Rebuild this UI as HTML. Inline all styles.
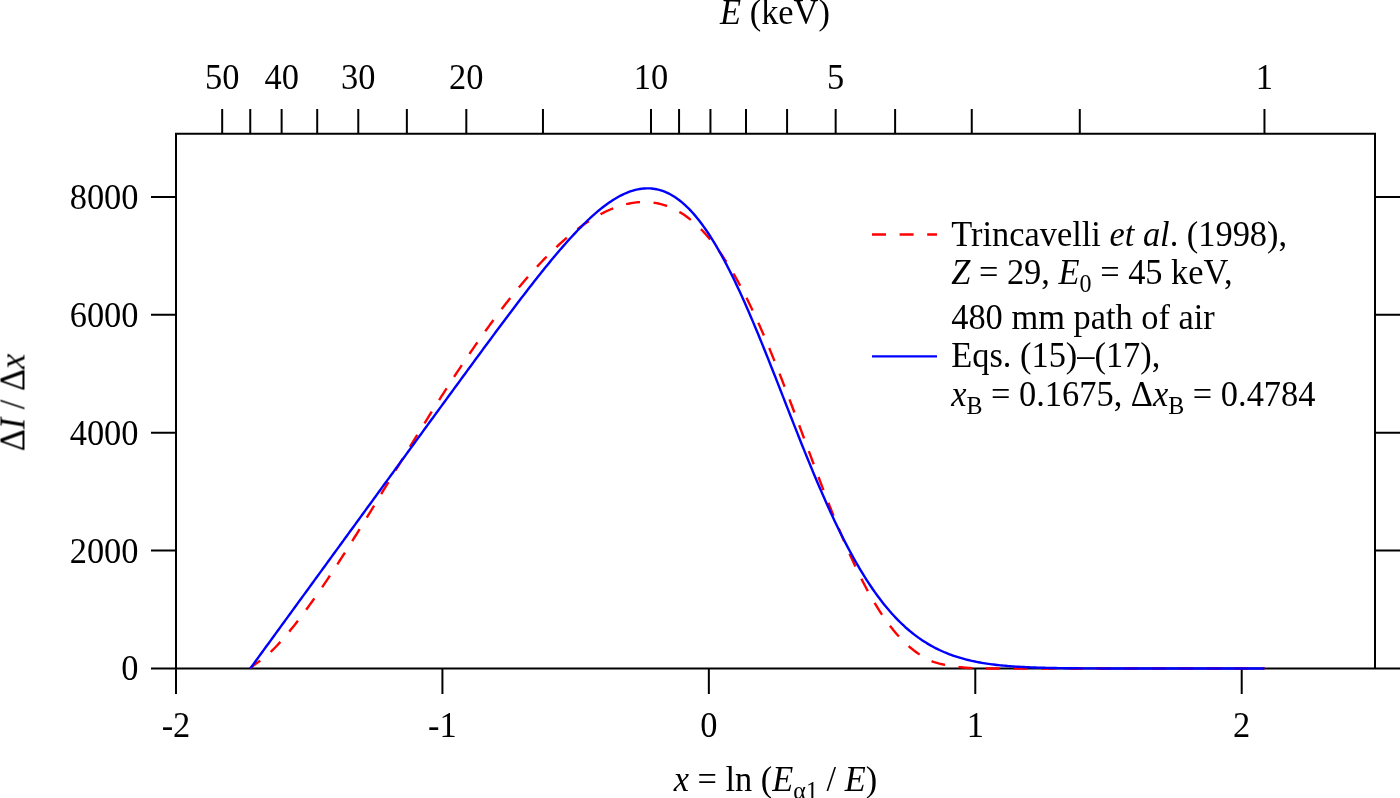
<!DOCTYPE html>
<html><head><meta charset="utf-8"><title>Chart</title>
<style>html,body{margin:0;padding:0;background:#fff;width:1400px;height:798px;overflow:hidden;font-family:"Liberation Serif",serif}svg{display:block}</style>
</head><body>
<svg width="1400" height="798" viewBox="0 0 1400 798">
<rect width="1400" height="798" fill="#fff"/>
<g stroke="#000" stroke-width="2.0" fill="none" stroke-linecap="butt">
<path d="M176.0,668.5 V133.7 H1375.0 V668.5"/>
<path d="M151,668.5 H1400"/>
<path d="M151,550.60 H176.0 M1375.0,550.60 H1400"/>
<path d="M151,432.70 H176.0 M1375.0,432.70 H1400"/>
<path d="M151,314.80 H176.0 M1375.0,314.80 H1400"/>
<path d="M151,196.90 H176.0 M1375.0,196.90 H1400"/>
<path d="M175.99,668.5 V694"/>
<path d="M442.42,668.5 V694"/>
<path d="M708.85,668.5 V694"/>
<path d="M975.28,668.5 V694"/>
<path d="M1241.71,668.5 V694"/>
<path d="M222.18,133.7 V109"/>
<path d="M250.25,133.7 V109"/>
<path d="M281.63,133.7 V109"/>
<path d="M317.21,133.7 V109"/>
<path d="M358.28,133.7 V109"/>
<path d="M406.86,133.7 V109"/>
<path d="M466.31,133.7 V109"/>
<path d="M542.96,133.7 V109"/>
<path d="M650.98,133.7 V109"/>
<path d="M679.06,133.7 V109"/>
<path d="M710.44,133.7 V109"/>
<path d="M746.01,133.7 V109"/>
<path d="M787.08,133.7 V109"/>
<path d="M835.66,133.7 V109"/>
<path d="M895.11,133.7 V109"/>
<path d="M971.76,133.7 V109"/>
<path d="M1079.79,133.7 V109"/>
<path d="M1264.46,133.7 V109"/>
</g>
<g font-family="Liberation Serif, serif" font-size="34.4" fill="#000" style="filter:grayscale(1)">
<text transform="translate(222.18,89.00) scale(1,1.06)" text-anchor="middle">50</text>
<text transform="translate(281.63,89.00) scale(1,1.06)" text-anchor="middle">40</text>
<text transform="translate(358.28,89.00) scale(1,1.06)" text-anchor="middle">30</text>
<text transform="translate(466.31,89.00) scale(1,1.06)" text-anchor="middle">20</text>
<text transform="translate(650.98,89.00) scale(1,1.06)" text-anchor="middle">10</text>
<text transform="translate(835.66,89.00) scale(1,1.06)" text-anchor="middle">5</text>
<text transform="translate(1264.46,89.00) scale(1,1.06)" text-anchor="middle">1</text>
<text transform="translate(775.00,24.00) scale(1,1.06)" text-anchor="middle"><tspan font-style="italic">E</tspan> (keV)</text>
<text transform="translate(138.50,680.40) scale(1,1.06)" text-anchor="end">0</text>
<text transform="translate(138.50,562.50) scale(1,1.06)" text-anchor="end">2000</text>
<text transform="translate(138.50,444.60) scale(1,1.06)" text-anchor="end">4000</text>
<text transform="translate(138.50,326.70) scale(1,1.06)" text-anchor="end">6000</text>
<text transform="translate(138.50,208.80) scale(1,1.06)" text-anchor="end">8000</text>
<text transform="translate(175.99,737.30) scale(1,1.06)" text-anchor="middle">-2</text>
<text transform="translate(442.42,737.30) scale(1,1.06)" text-anchor="middle">-1</text>
<text transform="translate(708.85,737.30) scale(1,1.06)" text-anchor="middle">0</text>
<text transform="translate(975.28,737.30) scale(1,1.06)" text-anchor="middle">1</text>
<text transform="translate(1241.71,737.30) scale(1,1.06)" text-anchor="middle">2</text>
<text transform="translate(775.40,790.60) scale(1,1.06)" text-anchor="middle"><tspan font-style="italic">x</tspan> = ln (<tspan font-style="italic">E</tspan><tspan font-size="24" dy="7.5">α1</tspan><tspan dy="-7.5"> / </tspan><tspan font-style="italic">E</tspan>)</text>
<text transform="translate(24.40,402.50) rotate(-90) scale(1,1.06)" text-anchor="middle">Δ<tspan font-style="italic">I</tspan> / Δ<tspan font-style="italic">x</tspan></text>
<text transform="translate(951.20,245.60) scale(1,1.06)">Trincavelli <tspan font-style="italic">et al</tspan>. (1998),</text>
<text transform="translate(951.20,283.90) scale(1,1.06)"><tspan font-style="italic">Z</tspan> = 29, <tspan font-style="italic">E</tspan><tspan font-size="24" dy="7.5">0</tspan><tspan dy="-7.5"> = 45 keV,</tspan></text>
<text transform="translate(951.20,329.00) scale(1,1.06)">480 mm path of air</text>
<text transform="translate(951.20,367.20) scale(1,1.06)">Eqs. (15)–(17),</text>
<text transform="translate(951.20,406.20) scale(1,1.06)"><tspan font-style="italic">x</tspan><tspan font-size="24" dy="7.5">B</tspan><tspan dy="-7.5"> = 0.1675, Δ</tspan><tspan font-style="italic">x</tspan><tspan font-size="24" dy="7.5">B</tspan><tspan dy="-7.5"> = 0.4784</tspan></text>
</g>
<path d="M872,234.5 H937" stroke="#ff0000" stroke-width="2.4" stroke-dasharray="14 13.6" fill="none"/>
<path d="M872,356.4 H937" stroke="#0000ff" stroke-width="2.4" fill="none"/>
<path d="M250.25,668.50 L251.95,666.91 L253.64,665.44 L255.33,664.08 L257.03,662.90 L258.72,661.84 L260.41,660.75 L262.11,659.50 L263.80,658.14 L265.49,656.72 L267.18,655.24 L268.88,653.70 L270.57,652.10 L272.26,650.45 L273.96,648.76 L275.65,647.01 L277.34,645.23 L279.04,643.40 L280.73,641.53 L282.42,639.63 L284.12,637.69 L285.81,635.72 L287.50,633.71 L289.20,631.68 L290.89,629.61 L292.58,627.51 L294.28,625.39 L295.97,623.23 L297.66,621.06 L299.35,618.86 L301.05,616.63 L302.74,614.38 L304.43,612.11 L306.13,609.81 L307.82,607.50 L309.51,605.16 L311.21,602.81 L312.90,600.44 L314.59,598.04 L316.29,595.63 L317.98,593.20 L319.67,590.76 L321.37,588.30 L323.06,585.82 L324.75,583.33 L326.45,580.82 L328.14,578.30 L329.83,575.76 L331.53,573.21 L333.22,570.64 L334.91,568.07 L336.60,565.48 L338.30,562.87 L339.99,560.26 L341.68,557.63 L343.38,554.99 L345.07,552.34 L346.76,549.68 L348.46,547.01 L350.15,544.33 L351.84,541.65 L353.54,538.95 L355.23,536.25 L356.92,533.53 L358.62,530.81 L360.31,528.09 L362.00,525.36 L363.70,522.62 L365.39,519.87 L367.08,517.12 L368.77,514.37 L370.47,511.61 L372.16,508.85 L373.85,506.08 L375.55,503.32 L377.24,500.54 L378.93,497.77 L380.63,494.99 L382.32,492.21 L384.01,489.43 L385.71,486.65 L387.40,483.87 L389.09,481.09 L390.79,478.30 L392.48,475.52 L394.17,472.74 L395.87,469.96 L397.56,467.17 L399.25,464.40 L400.95,461.62 L402.64,458.84 L404.33,456.07 L406.02,453.30 L407.72,450.53 L409.41,447.76 L411.10,445.00 L412.80,442.24 L414.49,439.49 L416.18,436.74 L417.88,434.00 L419.57,431.26 L421.26,428.52 L422.96,425.79 L424.65,423.07 L426.34,420.35 L428.04,417.64 L429.73,414.93 L431.42,412.23 L433.12,409.54 L434.81,406.85 L436.50,404.17 L438.19,401.50 L439.89,398.84 L441.58,396.19 L443.27,393.54 L444.97,390.91 L446.66,388.28 L448.35,385.66 L450.05,383.05 L451.74,380.45 L453.43,377.86 L455.13,375.28 L456.82,372.71 L458.51,370.15 L460.21,367.60 L461.90,365.06 L463.59,362.53 L465.29,360.02 L466.98,357.51 L468.67,355.02 L470.37,352.54 L472.06,350.07 L473.75,347.62 L475.44,345.17 L477.14,342.74 L478.83,340.33 L480.52,337.92 L482.22,335.53 L483.91,333.16 L485.60,330.79 L487.30,328.45 L488.99,326.11 L490.68,323.79 L492.38,321.49 L494.07,319.20 L495.76,316.92 L497.46,314.67 L499.15,312.42 L500.84,310.19 L502.54,307.98 L504.23,305.79 L505.92,303.61 L507.61,301.44 L509.31,299.30 L511.00,297.17 L512.69,295.06 L514.39,292.96 L516.08,290.89 L517.77,288.83 L519.47,286.79 L521.16,284.76 L522.85,282.76 L524.55,280.77 L526.24,278.80 L527.93,276.86 L529.63,274.93 L531.32,273.02 L533.01,271.12 L534.71,269.25 L536.40,267.40 L538.09,265.57 L539.79,263.76 L541.48,261.97 L543.17,260.20 L544.86,258.46 L546.56,256.73 L548.25,255.02 L549.94,253.34 L551.64,251.68 L553.33,250.04 L555.02,248.42 L556.72,246.82 L558.41,245.25 L560.10,243.70 L561.80,242.18 L563.49,240.67 L565.18,239.20 L566.88,237.74 L568.57,236.31 L570.26,234.90 L571.96,233.52 L573.65,232.17 L575.34,230.83 L577.03,229.53 L578.73,228.25 L580.42,226.99 L582.11,225.77 L583.81,224.57 L585.50,223.39 L587.19,222.25 L588.89,221.13 L590.58,220.04 L592.27,218.98 L593.97,217.94 L595.66,216.93 L597.35,215.96 L599.05,215.01 L600.74,214.10 L602.43,213.21 L604.13,212.36 L605.82,211.53 L607.51,210.74 L609.21,209.98 L610.90,209.25 L612.59,208.56 L614.28,207.89 L615.98,207.26 L617.67,206.67 L619.36,206.10 L621.06,205.57 L622.75,205.08 L624.44,204.62 L626.14,204.20 L627.83,203.81 L629.52,203.46 L631.22,203.14 L632.91,202.86 L634.60,202.63 L636.30,202.42 L637.99,202.25 L639.68,202.15 L641.38,202.08 L643.07,202.03 L644.76,202.01 L646.45,202.05 L648.15,202.15 L649.84,202.26 L651.53,202.41 L653.23,202.64 L654.92,202.89 L656.61,203.19 L658.31,203.54 L660.00,203.93 L661.69,204.36 L663.39,204.85 L665.08,205.39 L666.77,205.97 L668.47,206.60 L670.16,207.29 L671.85,208.02 L673.55,208.80 L675.24,209.64 L676.93,210.52 L678.63,211.46 L680.32,212.46 L682.01,213.51 L683.70,214.61 L685.40,215.77 L687.09,216.99 L688.78,218.26 L690.48,219.59 L692.17,220.97 L693.86,222.41 L695.56,223.92 L697.25,225.48 L698.94,227.10 L700.64,228.78 L702.33,230.53 L704.02,232.33 L705.72,234.19 L707.41,236.12 L709.10,238.10 L710.80,240.15 L712.49,242.26 L714.18,244.44 L715.87,246.67 L717.57,248.97 L719.26,251.33 L720.95,253.75 L722.65,256.24 L724.34,258.79 L726.03,261.40 L727.73,264.07 L729.42,266.81 L731.11,269.60 L732.81,272.46 L734.50,275.39 L736.19,278.37 L737.89,281.42 L739.58,284.52 L741.27,287.69 L742.97,290.92 L744.66,294.21 L746.35,297.55 L748.05,300.95 L749.74,304.42 L751.43,307.94 L753.12,311.51 L754.82,315.14 L756.51,318.82 L758.20,322.56 L759.90,326.35 L761.59,330.19 L763.28,334.08 L764.98,338.01 L766.67,342.00 L768.36,346.02 L770.06,350.10 L771.75,354.21 L773.44,358.37 L775.14,362.56 L776.83,366.80 L778.52,371.06 L780.22,375.36 L781.91,379.70 L783.60,384.06 L785.29,388.45 L786.99,392.87 L788.68,397.31 L790.37,401.77 L792.07,406.26 L793.76,410.75 L795.45,415.27 L797.15,419.80 L798.84,424.33 L800.53,428.88 L802.23,433.43 L803.92,437.98 L805.61,442.54 L807.31,447.09 L809.00,451.65 L810.69,456.19 L812.39,460.72 L814.08,465.25 L815.77,469.76 L817.47,474.26 L819.16,478.74 L820.85,483.20 L822.54,487.64 L824.24,492.05 L825.93,496.44 L827.62,500.80 L829.32,505.13 L831.01,509.42 L832.70,513.68 L834.40,517.91 L836.09,522.09 L837.78,526.23 L839.48,530.33 L841.17,534.39 L842.86,538.39 L844.56,542.36 L846.25,546.26 L847.94,550.12 L849.64,553.92 L851.33,557.67 L853.02,561.36 L854.71,564.99 L856.41,568.57 L858.10,572.08 L859.79,575.53 L861.49,578.92 L863.18,582.24 L864.87,585.50 L866.57,588.70 L868.26,591.82 L869.95,594.88 L871.65,597.87 L873.34,600.80 L875.03,603.65 L876.73,606.44 L878.42,609.15 L880.11,611.80 L881.81,614.37 L883.50,616.88 L885.19,619.31 L886.89,621.68 L888.58,623.98 L890.27,626.20 L891.96,628.36 L893.66,630.45 L895.35,632.47 L897.04,634.43 L898.74,636.32 L900.43,638.14 L902.12,639.90 L903.82,641.60 L905.51,643.23 L907.20,644.80 L908.90,646.31 L910.59,647.76 L912.28,649.14 L913.98,650.48 L915.67,651.75 L917.36,652.97 L919.06,654.13 L920.75,655.24 L922.44,656.30 L924.13,657.35 L925.83,658.38 L927.52,659.36 L929.21,660.23 L930.91,660.96 L932.60,661.58 L934.29,662.15 L935.99,662.68 L937.68,663.16 L939.37,663.60 L941.07,664.00 L942.76,664.38 L944.45,664.73 L946.15,665.07 L947.84,665.38 L949.53,665.68 L951.23,665.96 L952.92,666.22 L954.61,666.47 L956.31,666.69 L958.00,666.91 L959.69,667.10 L961.38,667.29 L963.08,667.48 L964.77,667.65 L966.46,667.81 L968.16,667.94 L969.85,668.05 L971.54,668.13 L973.24,668.20 L974.93,668.27 L976.62,668.33 L978.32,668.39 L980.01,668.44 L981.70,668.47 L983.40,668.49 L985.09,668.50 L986.78,668.50 L988.48,668.50 L990.17,668.50 L991.86,668.50 L993.55,668.50 L995.25,668.50 L996.94,668.50 L998.63,668.50 L1000.33,668.50 L1002.02,668.50 L1003.71,668.50 L1005.41,668.50 L1007.10,668.50 L1008.79,668.50 L1010.49,668.50 L1012.18,668.50 L1013.87,668.50 L1015.57,668.50 L1017.26,668.50 L1018.95,668.50 L1020.65,668.50 L1022.34,668.50 L1024.03,668.50 L1025.73,668.50 L1027.42,668.50 L1029.11,668.50 L1030.80,668.50 L1032.50,668.50 L1034.19,668.50 L1035.88,668.50 L1037.58,668.50 L1039.27,668.50 L1040.96,668.50 L1042.66,668.50 L1044.35,668.50 L1046.04,668.50 L1047.74,668.50 L1049.43,668.50 L1051.12,668.50 L1052.82,668.50 L1054.51,668.50 L1056.20,668.50 L1057.90,668.50 L1059.59,668.50 L1061.28,668.50 L1062.97,668.50 L1064.67,668.50 L1066.36,668.50 L1068.05,668.50 L1069.75,668.50 L1071.44,668.50 L1073.13,668.50 L1074.83,668.50 L1076.52,668.50 L1078.21,668.50 L1079.91,668.50 L1081.60,668.50 L1083.29,668.50 L1084.99,668.50 L1086.68,668.50 L1088.37,668.50 L1090.07,668.50 L1091.76,668.50 L1093.45,668.50 L1095.15,668.50 L1096.84,668.50 L1098.53,668.50 L1100.22,668.50 L1101.92,668.50 L1103.61,668.50 L1105.30,668.50 L1107.00,668.50 L1108.69,668.50 L1110.38,668.50 L1112.08,668.50 L1113.77,668.50 L1115.46,668.50 L1117.16,668.50 L1118.85,668.50 L1120.54,668.50 L1122.24,668.50 L1123.93,668.50 L1125.62,668.50 L1127.32,668.50 L1129.01,668.50 L1130.70,668.50 L1132.39,668.50 L1134.09,668.50 L1135.78,668.50 L1137.47,668.50 L1139.17,668.50 L1140.86,668.50 L1142.55,668.50 L1144.25,668.50 L1145.94,668.50 L1147.63,668.50 L1149.33,668.50 L1151.02,668.50 L1152.71,668.50 L1154.41,668.50 L1156.10,668.50 L1157.79,668.50 L1159.49,668.50 L1161.18,668.50 L1162.87,668.50 L1164.57,668.50 L1166.26,668.50 L1167.95,668.50 L1169.64,668.50 L1171.34,668.50 L1173.03,668.50 L1174.72,668.50 L1176.42,668.50 L1178.11,668.50 L1179.80,668.50 L1181.50,668.50 L1183.19,668.50 L1184.88,668.50 L1186.58,668.50 L1188.27,668.50 L1189.96,668.50 L1191.66,668.50 L1193.35,668.50 L1195.04,668.50 L1196.74,668.50 L1198.43,668.50 L1200.12,668.50 L1201.81,668.50 L1203.51,668.50 L1205.20,668.50 L1206.89,668.50 L1208.59,668.50 L1210.28,668.50 L1211.97,668.50 L1213.67,668.50 L1215.36,668.50 L1217.05,668.50 L1218.75,668.50 L1220.44,668.50 L1222.13,668.50 L1223.83,668.50 L1225.52,668.50 L1227.21,668.50 L1228.91,668.50 L1230.60,668.50 L1232.29,668.50 L1233.99,668.50 L1235.68,668.50 L1237.37,668.50 L1239.06,668.50 L1240.76,668.50 L1242.45,668.50 L1244.14,668.50 L1245.84,668.50 L1247.53,668.50 L1249.22,668.50 L1250.92,668.50 L1252.61,668.50 L1254.30,668.50 L1256.00,668.50 L1257.69,668.50 L1259.38,668.50 L1261.08,668.50 L1262.77,668.50 L1264.46,668.50" stroke="#ff0000" stroke-width="2.4" stroke-dasharray="14 13.6" stroke-dashoffset="1.3" fill="none" stroke-linejoin="round"/>
<path d="M250.25,668.50 L251.95,666.17 L253.64,663.85 L255.33,661.52 L257.03,659.20 L258.72,656.87 L260.41,654.55 L262.11,652.22 L263.80,649.90 L265.49,647.57 L267.18,645.25 L268.88,642.92 L270.57,640.60 L272.26,638.27 L273.96,635.95 L275.65,633.62 L277.34,631.30 L279.04,628.97 L280.73,626.65 L282.42,624.32 L284.12,622.00 L285.81,619.67 L287.50,617.35 L289.20,615.02 L290.89,612.70 L292.58,610.37 L294.28,608.05 L295.97,605.72 L297.66,603.40 L299.35,601.07 L301.05,598.75 L302.74,596.42 L304.43,594.10 L306.13,591.77 L307.82,589.45 L309.51,587.12 L311.21,584.80 L312.90,582.47 L314.59,580.15 L316.29,577.82 L317.98,575.50 L319.67,573.17 L321.37,570.85 L323.06,568.52 L324.75,566.20 L326.45,563.87 L328.14,561.55 L329.83,559.22 L331.53,556.90 L333.22,554.57 L334.91,552.25 L336.60,549.92 L338.30,547.60 L339.99,545.27 L341.68,542.95 L343.38,540.62 L345.07,538.30 L346.76,535.97 L348.46,533.65 L350.15,531.32 L351.84,529.00 L353.54,526.67 L355.23,524.35 L356.92,522.02 L358.62,519.70 L360.31,517.37 L362.00,515.05 L363.70,512.72 L365.39,510.40 L367.08,508.07 L368.77,505.75 L370.47,503.42 L372.16,501.10 L373.85,498.77 L375.55,496.45 L377.24,494.12 L378.93,491.80 L380.63,489.47 L382.32,487.15 L384.01,484.82 L385.71,482.50 L387.40,480.17 L389.09,477.85 L390.79,475.52 L392.48,473.20 L394.17,470.87 L395.87,468.55 L397.56,466.23 L399.25,463.90 L400.95,461.58 L402.64,459.25 L404.33,456.93 L406.02,454.60 L407.72,452.28 L409.41,449.96 L411.10,447.63 L412.80,445.31 L414.49,442.99 L416.18,440.66 L417.88,438.34 L419.57,436.02 L421.26,433.69 L422.96,431.37 L424.65,429.05 L426.34,426.72 L428.04,424.40 L429.73,422.08 L431.42,419.76 L433.12,417.44 L434.81,415.12 L436.50,412.80 L438.19,410.48 L439.89,408.16 L441.58,405.84 L443.27,403.52 L444.97,401.20 L446.66,398.88 L448.35,396.56 L450.05,394.24 L451.74,391.93 L453.43,389.61 L455.13,387.30 L456.82,384.98 L458.51,382.67 L460.21,380.35 L461.90,378.04 L463.59,375.73 L465.29,373.42 L466.98,371.11 L468.67,368.80 L470.37,366.49 L472.06,364.19 L473.75,361.88 L475.44,359.58 L477.14,357.28 L478.83,354.98 L480.52,352.68 L482.22,350.38 L483.91,348.08 L485.60,345.79 L487.30,343.50 L488.99,341.21 L490.68,338.92 L492.38,336.64 L494.07,334.36 L495.76,332.08 L497.46,329.80 L499.15,327.53 L500.84,325.26 L502.54,322.99 L504.23,320.73 L505.92,318.47 L507.61,316.21 L509.31,313.96 L511.00,311.71 L512.69,309.47 L514.39,307.23 L516.08,305.00 L517.77,302.77 L519.47,300.55 L521.16,298.34 L522.85,296.13 L524.55,293.92 L526.24,291.73 L527.93,289.54 L529.63,287.35 L531.32,285.18 L533.01,283.01 L534.71,280.86 L536.40,278.71 L538.09,276.57 L539.79,274.44 L541.48,272.32 L543.17,270.21 L544.86,268.11 L546.56,266.02 L548.25,263.95 L549.94,261.88 L551.64,259.83 L553.33,257.80 L555.02,255.77 L556.72,253.77 L558.41,251.77 L560.10,249.80 L561.80,247.84 L563.49,245.89 L565.18,243.97 L566.88,242.06 L568.57,240.17 L570.26,238.30 L571.96,236.45 L573.65,234.63 L575.34,232.82 L577.03,231.04 L578.73,229.28 L580.42,227.54 L582.11,225.83 L583.81,224.14 L585.50,222.49 L587.19,220.85 L588.89,219.25 L590.58,217.68 L592.27,216.13 L593.97,214.62 L595.66,213.14 L597.35,211.69 L599.05,210.28 L600.74,208.90 L602.43,207.55 L604.13,206.25 L605.82,204.98 L607.51,203.74 L609.21,202.55 L610.90,201.40 L612.59,200.29 L614.28,199.22 L615.98,198.20 L617.67,197.22 L619.36,196.29 L621.06,195.40 L622.75,194.56 L624.44,193.77 L626.14,193.03 L627.83,192.34 L629.52,191.70 L631.22,191.11 L632.91,190.58 L634.60,190.10 L636.30,189.68 L637.99,189.31 L639.68,189.01 L641.38,188.76 L643.07,188.57 L644.76,188.44 L646.45,188.37 L648.15,188.37 L649.84,188.42 L651.53,188.54 L653.23,188.73 L654.92,188.98 L656.61,189.30 L658.31,189.68 L660.00,190.13 L661.69,190.65 L663.39,191.24 L665.08,191.90 L666.77,192.63 L668.47,193.43 L670.16,194.30 L671.85,195.25 L673.55,196.26 L675.24,197.35 L676.93,198.51 L678.63,199.74 L680.32,201.05 L682.01,202.43 L683.70,203.88 L685.40,205.41 L687.09,207.01 L688.78,208.69 L690.48,210.44 L692.17,212.26 L693.86,214.16 L695.56,216.13 L697.25,218.17 L698.94,220.29 L700.64,222.48 L702.33,224.75 L704.02,227.08 L705.72,229.49 L707.41,231.96 L709.10,234.51 L710.80,237.13 L712.49,239.81 L714.18,242.56 L715.87,245.39 L717.57,248.27 L719.26,251.23 L720.95,254.24 L722.65,257.32 L724.34,260.47 L726.03,263.67 L727.73,266.93 L729.42,270.26 L731.11,273.64 L732.81,277.07 L734.50,280.56 L736.19,284.11 L737.89,287.70 L739.58,291.35 L741.27,295.05 L742.97,298.79 L744.66,302.58 L746.35,306.41 L748.05,310.29 L749.74,314.20 L751.43,318.16 L753.12,322.15 L754.82,326.17 L756.51,330.23 L758.20,334.32 L759.90,338.45 L761.59,342.59 L763.28,346.77 L764.98,350.97 L766.67,355.19 L768.36,359.43 L770.06,363.69 L771.75,367.96 L773.44,372.25 L775.14,376.55 L776.83,380.86 L778.52,385.18 L780.22,389.51 L781.91,393.84 L783.60,398.17 L785.29,402.50 L786.99,406.84 L788.68,411.16 L790.37,415.48 L792.07,419.80 L793.76,424.11 L795.45,428.40 L797.15,432.68 L798.84,436.95 L800.53,441.20 L802.23,445.43 L803.92,449.65 L805.61,453.84 L807.31,458.01 L809.00,462.15 L810.69,466.27 L812.39,470.36 L814.08,474.42 L815.77,478.45 L817.47,482.45 L819.16,486.41 L820.85,490.34 L822.54,494.24 L824.24,498.10 L825.93,501.91 L827.62,505.69 L829.32,509.43 L831.01,513.13 L832.70,516.78 L834.40,520.39 L836.09,523.96 L837.78,527.48 L839.48,530.95 L841.17,534.38 L842.86,537.76 L844.56,541.09 L846.25,544.38 L847.94,547.61 L849.64,550.79 L851.33,553.93 L853.02,557.01 L854.71,560.04 L856.41,563.02 L858.10,565.95 L859.79,568.83 L861.49,571.66 L863.18,574.43 L864.87,577.15 L866.57,579.82 L868.26,582.44 L869.95,585.00 L871.65,587.52 L873.34,589.98 L875.03,592.39 L876.73,594.74 L878.42,597.05 L880.11,599.30 L881.81,601.51 L883.50,603.66 L885.19,605.77 L886.89,607.82 L888.58,609.83 L890.27,611.78 L891.96,613.69 L893.66,615.55 L895.35,617.36 L897.04,619.13 L898.74,620.85 L900.43,622.52 L902.12,624.15 L903.82,625.73 L905.51,627.27 L907.20,628.77 L908.90,630.23 L910.59,631.64 L912.28,633.01 L913.98,634.35 L915.67,635.64 L917.36,636.89 L919.06,638.11 L920.75,639.28 L922.44,640.42 L924.13,641.53 L925.83,642.60 L927.52,643.63 L929.21,644.64 L930.91,645.60 L932.60,646.54 L934.29,647.44 L935.99,648.32 L937.68,649.16 L939.37,649.97 L941.07,650.76 L942.76,651.52 L944.45,652.25 L946.15,652.95 L947.84,653.63 L949.53,654.28 L951.23,654.91 L952.92,655.52 L954.61,656.10 L956.31,656.66 L958.00,657.20 L959.69,657.72 L961.38,658.21 L963.08,658.69 L964.77,659.15 L966.46,659.59 L968.16,660.01 L969.85,660.42 L971.54,660.80 L973.24,661.17 L974.93,661.53 L976.62,661.87 L978.32,662.20 L980.01,662.51 L981.70,662.81 L983.40,663.09 L985.09,663.37 L986.78,663.63 L988.48,663.88 L990.17,664.11 L991.86,664.34 L993.55,664.56 L995.25,664.76 L996.94,664.96 L998.63,665.15 L1000.33,665.33 L1002.02,665.50 L1003.71,665.66 L1005.41,665.81 L1007.10,665.96 L1008.79,666.10 L1010.49,666.23 L1012.18,666.36 L1013.87,666.47 L1015.57,666.59 L1017.26,666.70 L1018.95,666.80 L1020.65,666.90 L1022.34,666.99 L1024.03,667.07 L1025.73,667.16 L1027.42,667.24 L1029.11,667.31 L1030.80,667.38 L1032.50,667.45 L1034.19,667.51 L1035.88,667.57 L1037.58,667.62 L1039.27,667.68 L1040.96,667.73 L1042.66,667.77 L1044.35,667.82 L1046.04,667.86 L1047.74,667.90 L1049.43,667.94 L1051.12,667.97 L1052.82,668.01 L1054.51,668.04 L1056.20,668.07 L1057.90,668.09 L1059.59,668.12 L1061.28,668.15 L1062.97,668.17 L1064.67,668.19 L1066.36,668.21 L1068.05,668.23 L1069.75,668.25 L1071.44,668.26 L1073.13,668.28 L1074.83,668.29 L1076.52,668.31 L1078.21,668.32 L1079.91,668.33 L1081.60,668.34 L1083.29,668.36 L1084.99,668.37 L1086.68,668.37 L1088.37,668.38 L1090.07,668.39 L1091.76,668.40 L1093.45,668.41 L1095.15,668.41 L1096.84,668.42 L1098.53,668.42 L1100.22,668.43 L1101.92,668.44 L1103.61,668.44 L1105.30,668.44 L1107.00,668.45 L1108.69,668.45 L1110.38,668.46 L1112.08,668.46 L1113.77,668.46 L1115.46,668.46 L1117.16,668.47 L1118.85,668.47 L1120.54,668.47 L1122.24,668.47 L1123.93,668.48 L1125.62,668.48 L1127.32,668.48 L1129.01,668.48 L1130.70,668.48 L1132.39,668.48 L1134.09,668.49 L1135.78,668.49 L1137.47,668.49 L1139.17,668.49 L1140.86,668.49 L1142.55,668.49 L1144.25,668.49 L1145.94,668.49 L1147.63,668.49 L1149.33,668.49 L1151.02,668.49 L1152.71,668.49 L1154.41,668.49 L1156.10,668.50 L1157.79,668.50 L1159.49,668.50 L1161.18,668.50 L1162.87,668.50 L1164.57,668.50 L1166.26,668.50 L1167.95,668.50 L1169.64,668.50 L1171.34,668.50 L1173.03,668.50 L1174.72,668.50 L1176.42,668.50 L1178.11,668.50 L1179.80,668.50 L1181.50,668.50 L1183.19,668.50 L1184.88,668.50 L1186.58,668.50 L1188.27,668.50 L1189.96,668.50 L1191.66,668.50 L1193.35,668.50 L1195.04,668.50 L1196.74,668.50 L1198.43,668.50 L1200.12,668.50 L1201.81,668.50 L1203.51,668.50 L1205.20,668.50 L1206.89,668.50 L1208.59,668.50 L1210.28,668.50 L1211.97,668.50 L1213.67,668.50 L1215.36,668.50 L1217.05,668.50 L1218.75,668.50 L1220.44,668.50 L1222.13,668.50 L1223.83,668.50 L1225.52,668.50 L1227.21,668.50 L1228.91,668.50 L1230.60,668.50 L1232.29,668.50 L1233.99,668.50 L1235.68,668.50 L1237.37,668.50 L1239.06,668.50 L1240.76,668.50 L1242.45,668.50 L1244.14,668.50 L1245.84,668.50 L1247.53,668.50 L1249.22,668.50 L1250.92,668.50 L1252.61,668.50 L1254.30,668.50 L1256.00,668.50 L1257.69,668.50 L1259.38,668.50 L1261.08,668.50 L1262.77,668.50 L1264.46,668.50" stroke="#0000ff" stroke-width="2.4" fill="none" stroke-linejoin="round"/>
</svg>
</body></html>
